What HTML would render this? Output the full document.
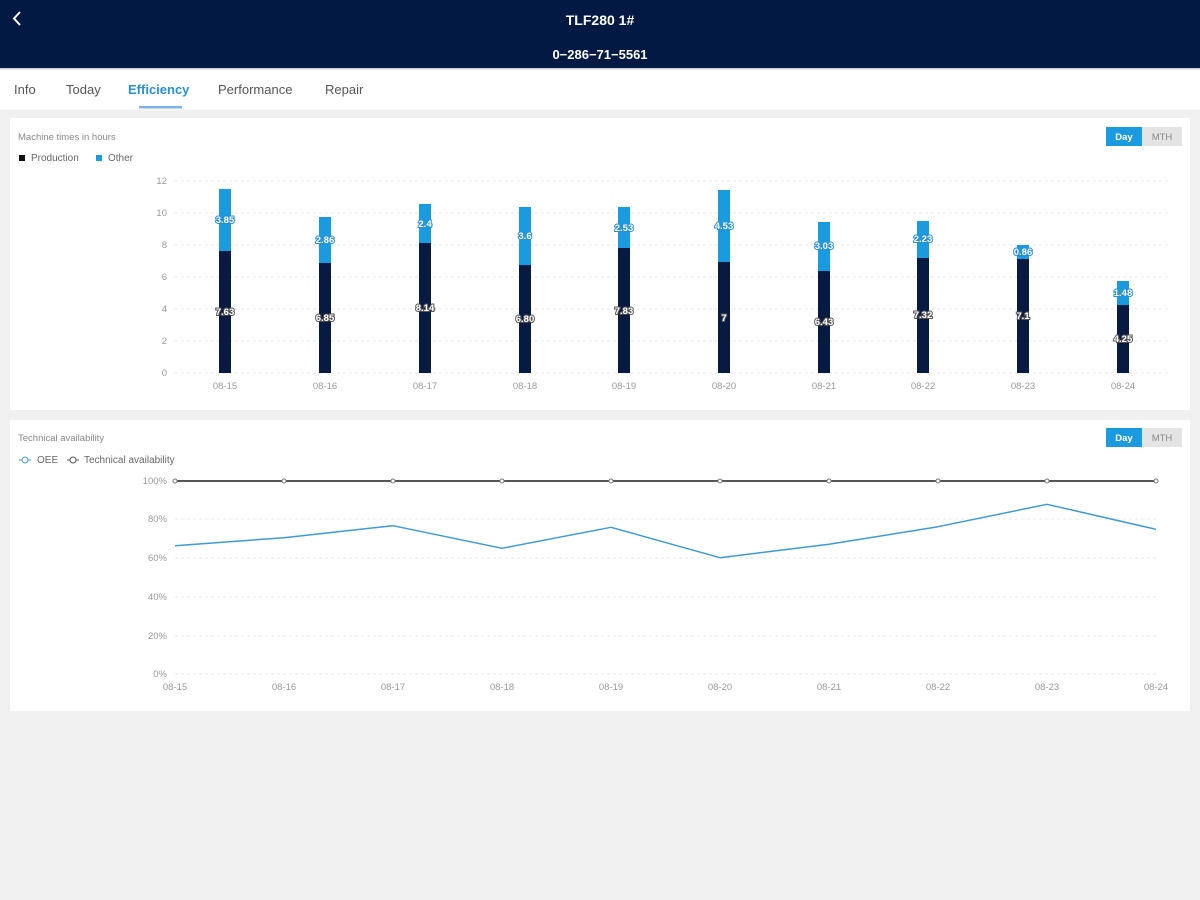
<!DOCTYPE html>
<html><head><meta charset="utf-8"><style>
html,body{margin:0;padding:0;background:#f0f0f0;width:1200px;height:900px;overflow:hidden;font-family:"Liberation Sans",sans-serif}
svg{display:block}
</style></head><body>
<svg width="1200" height="900" viewBox="0 0 1200 900" xmlns="http://www.w3.org/2000/svg" font-family="Liberation Sans, sans-serif">
<rect x="0" y="0" width="1200" height="900" fill="#f0f0f0"/>
<!-- header -->
<rect x="0" y="0" width="1200" height="68" fill="#021a43"/>
<rect x="0" y="68" width="1200" height="1.5" fill="#c8cdd8"/>
<path d="M20 12 L14 18.5 L20 25" fill="none" stroke="#fff" stroke-width="2"/>
<text x="600" y="25" text-anchor="middle" fill="#fff" font-size="14" font-weight="bold">TLF280 1#</text>
<text x="600" y="59" text-anchor="middle" fill="#fff" font-size="13" font-weight="bold">0−286−71−5561</text>
<!-- tabs -->
<rect x="0" y="69.5" width="1200" height="40" fill="#fff"/>
<g font-size="13" fill="#555">
<text x="14" y="94">Info</text>
<text x="66" y="94">Today</text>
<text x="128" y="94" fill="#2a8fd6" font-weight="bold">Efficiency</text>
<text x="218" y="94">Performance</text>
<text x="325" y="94">Repair</text>
</g>
<rect x="139" y="106" width="43" height="2.5" fill="#7bb6e3"/>

<!-- card 1 -->
<rect x="10" y="118" width="1180" height="292" fill="#fff"/>
<text x="18" y="140" font-size="9.5" fill="#888">Machine times in hours</text>
<rect x="19" y="155" width="6" height="6" fill="#111"/>
<text x="31" y="161" font-size="10" fill="#666">Production</text>
<rect x="96" y="155" width="6" height="6" fill="#1a9be0"/>
<text x="108" y="161" font-size="10" fill="#666">Other</text>
<rect x="1106" y="127" width="36" height="19" fill="#1a9be0"/>
<rect x="1142" y="127" width="40" height="19" fill="#e4e4e4"/>
<text x="1124" y="140" text-anchor="middle" font-size="9.5" fill="#fff" font-weight="bold">Day</text>
<text x="1162" y="140" text-anchor="middle" font-size="9.5" fill="#888">MTH</text>

<g stroke="#e4e4e4" stroke-width="1" stroke-dasharray="3,3">
<line x1="175" y1="181" x2="1168" y2="181"/>
<line x1="175" y1="213" x2="1168" y2="213"/>
<line x1="175" y1="245" x2="1168" y2="245"/>
<line x1="175" y1="277" x2="1168" y2="277"/>
<line x1="175" y1="309" x2="1168" y2="309"/>
<line x1="175" y1="341" x2="1168" y2="341"/>
<line x1="175" y1="373" x2="1168" y2="373"/>
</g>
<g font-size="9.5" fill="#999" text-anchor="end">
<text x="167" y="184">12</text>
<text x="167" y="216">10</text>
<text x="167" y="248">8</text>
<text x="167" y="280">6</text>
<text x="167" y="312">4</text>
<text x="167" y="344">2</text>
<text x="167" y="376">0</text>
</g>
<g font-size="9.5" fill="#999" text-anchor="middle">
<text x="225" y="389">08-15</text>
<text x="325" y="389">08-16</text>
<text x="425" y="389">08-17</text>
<text x="525" y="389">08-18</text>
<text x="624" y="389">08-19</text>
<text x="724" y="389">08-20</text>
<text x="824" y="389">08-21</text>
<text x="923" y="389">08-22</text>
<text x="1023" y="389">08-23</text>
<text x="1123" y="389">08-24</text>
</g>
<!-- bars: x center, prodTop, totalTop -->
<g>
<rect x="219" y="189" width="12" height="62" fill="#1a9be0"/><rect x="219" y="251" width="12" height="122" fill="#071a42"/>
<rect x="319" y="217" width="12" height="46" fill="#1a9be0"/><rect x="319" y="263" width="12" height="110" fill="#071a42"/>
<rect x="419" y="204" width="12" height="39" fill="#1a9be0"/><rect x="419" y="243" width="12" height="130" fill="#071a42"/>
<rect x="519" y="207" width="12" height="58" fill="#1a9be0"/><rect x="519" y="265" width="12" height="108" fill="#071a42"/>
<rect x="618" y="207" width="12" height="41" fill="#1a9be0"/><rect x="618" y="248" width="12" height="125" fill="#071a42"/>
<rect x="718" y="190" width="12" height="72" fill="#1a9be0"/><rect x="718" y="262" width="12" height="111" fill="#071a42"/>
<rect x="818" y="222" width="12" height="49" fill="#1a9be0"/><rect x="818" y="271" width="12" height="102" fill="#071a42"/>
<rect x="917" y="221" width="12" height="37" fill="#1a9be0"/><rect x="917" y="258" width="12" height="115" fill="#071a42"/>
<rect x="1017" y="245" width="12" height="14" fill="#1a9be0"/><rect x="1017" y="259" width="12" height="114" fill="#071a42"/>
<rect x="1117" y="281" width="12" height="24" fill="#1a9be0"/><rect x="1117" y="305" width="12" height="68" fill="#071a42"/>
</g>
<g font-size="9.5" font-weight="bold" fill="#fff" text-anchor="middle" stroke-width="2" paint-order="stroke">
<g stroke="#2a8fd6">
<text x="225" y="223">3.85</text>
<text x="325" y="243">2.86</text>
<text x="425" y="227">2.4</text>
<text x="525" y="239">3.6</text>
<text x="624" y="231">2.53</text>
<text x="724" y="229">4.53</text>
<text x="824" y="249">3.03</text>
<text x="923" y="242">2.23</text>
<text x="1023" y="255">0.86</text>
<text x="1123" y="296">1.48</text>
</g>
<g stroke="#555">
<text x="225" y="315">7.63</text>
<text x="325" y="321">6.85</text>
<text x="425" y="311">8.14</text>
<text x="525" y="322">6.80</text>
<text x="624" y="314">7.83</text>
<text x="724" y="321">7</text>
<text x="824" y="325">6.43</text>
<text x="923" y="318">7.32</text>
<text x="1023" y="319">7.1</text>
<text x="1123" y="342">4.25</text>
</g>
</g>

<!-- card 2 -->
<rect x="10" y="420" width="1180" height="291" fill="#fff"/>
<text x="18" y="441" font-size="9.5" fill="#888">Technical availability</text>
<line x1="19" y1="460" x2="31" y2="460" stroke="#3d9ad9" stroke-width="1"/>
<circle cx="25" cy="460" r="3" fill="#fff" stroke="#3d9ad9" stroke-width="1"/>
<text x="37" y="463" font-size="10" fill="#666">OEE</text>
<line x1="67" y1="460" x2="79" y2="460" stroke="#555" stroke-width="1"/>
<circle cx="73" cy="460" r="3" fill="#fff" stroke="#555" stroke-width="1"/>
<text x="84" y="463" font-size="10" fill="#666">Technical availability</text>
<rect x="1106" y="428" width="36" height="19" fill="#1a9be0"/>
<rect x="1142" y="428" width="40" height="19" fill="#e4e4e4"/>
<text x="1124" y="441" text-anchor="middle" font-size="9.5" fill="#fff" font-weight="bold">Day</text>
<text x="1162" y="441" text-anchor="middle" font-size="9.5" fill="#888">MTH</text>

<g stroke="#e8e8e8" stroke-width="1" stroke-dasharray="3,3">
<line x1="175" y1="519" x2="1157" y2="519"/>
<line x1="175" y1="558" x2="1157" y2="558"/>
<line x1="175" y1="597" x2="1157" y2="597"/>
<line x1="175" y1="636" x2="1157" y2="636"/>
<line x1="175" y1="674" x2="1157" y2="674"/>
</g>
<g font-size="9.5" fill="#999" text-anchor="end">
<text x="167" y="484">100%</text>
<text x="167" y="522">80%</text>
<text x="167" y="561">60%</text>
<text x="167" y="600">40%</text>
<text x="167" y="639">20%</text>
<text x="167" y="677">0%</text>
</g>
<g font-size="9.5" fill="#999" text-anchor="middle">
<text x="175" y="690">08-15</text>
<text x="284" y="690">08-16</text>
<text x="393" y="690">08-17</text>
<text x="502" y="690">08-18</text>
<text x="611" y="690">08-19</text>
<text x="720" y="690">08-20</text>
<text x="829" y="690">08-21</text>
<text x="938" y="690">08-22</text>
<text x="1047" y="690">08-23</text>
<text x="1156" y="690">08-24</text>
</g>
<polyline points="175,481 1156,481" fill="none" stroke="#555" stroke-width="2"/>
<g fill="#fff" stroke="#777" stroke-width="1">
<circle cx="175" cy="481" r="2"/><circle cx="284" cy="481" r="2"/><circle cx="393" cy="481" r="2"/><circle cx="502" cy="481" r="2"/><circle cx="611" cy="481" r="2"/><circle cx="720" cy="481" r="2"/><circle cx="829" cy="481" r="2"/><circle cx="938" cy="481" r="2"/><circle cx="1047" cy="481" r="2"/><circle cx="1156" cy="481" r="2"/>
</g>
<polyline points="175,545.7 284,537.7 393,525.7 502,548.3 611,527.3 720,557.7 829,544.3 938,526.7 1047,504.3 1156,529.3" fill="none" stroke="#3d9ad9" stroke-width="1.5" stroke-linejoin="round"/>
</svg>
</body></html>
